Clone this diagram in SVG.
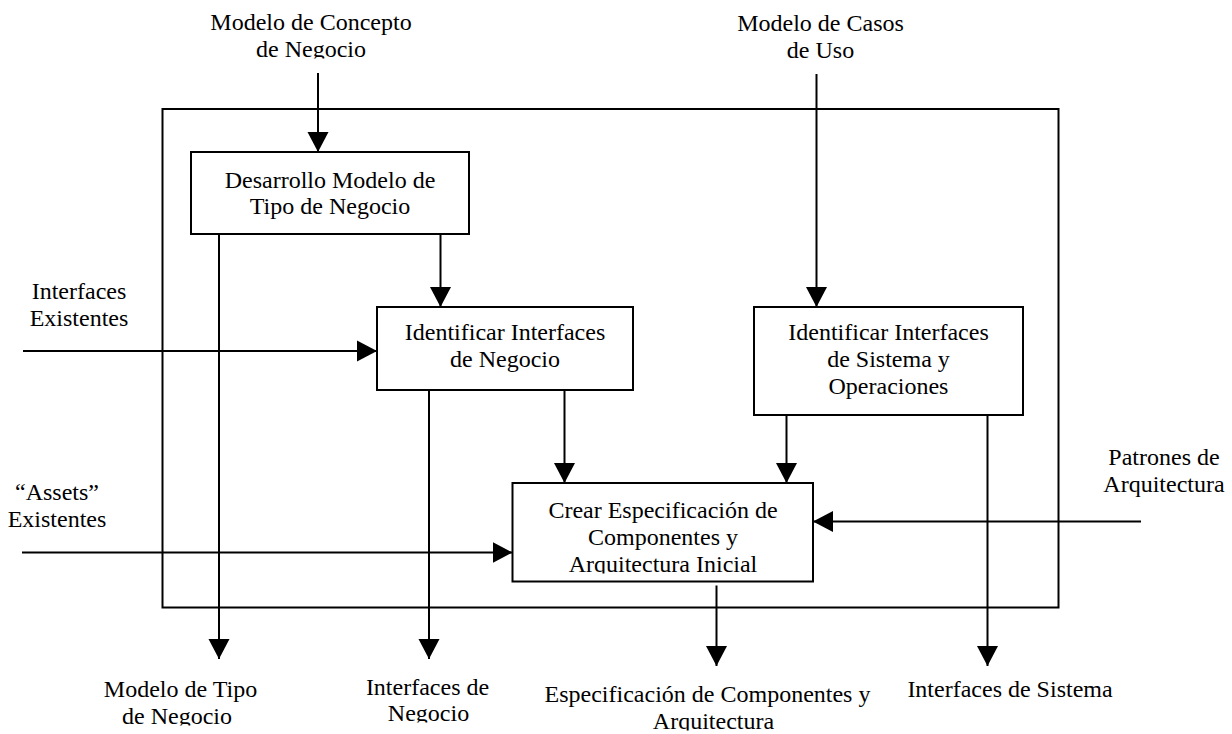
<svg xmlns="http://www.w3.org/2000/svg" width="1232" height="734" viewBox="0 0 1232 734">
<style>
text{font-family:"Liberation Serif","Times New Roman",serif;font-size:24px;fill:#000;text-anchor:middle}
.box{fill:#fff;stroke:#000;stroke-width:2}
.frame{fill:none;stroke:#000;stroke-width:2}
.c{stroke:#000;stroke-width:2;fill:none;marker-end:url(#ah)}
.n{stroke:#000;stroke-width:2;fill:none}
</style>
<defs>
<marker id="ah" markerUnits="userSpaceOnUse" markerWidth="21" markerHeight="22" refX="20" refY="11" orient="auto" viewBox="0 0 21 22">
<path d="M0,0.5 L20,11 L0,21.5 z" fill="#000"/>
</marker>
<clipPath id="clipTop"><rect x="200" y="0" width="240" height="58.5"/></clipPath>
<clipPath id="clipB3"><rect x="513" y="484" width="299" height="89.5"/></clipPath>
<clipPath id="clipBL1"><rect x="90" y="640" width="180" height="85.5"/></clipPath>
<clipPath id="clipBL2"><rect x="350" y="640" width="160" height="82.5"/></clipPath>
<clipPath id="clipBL3"><rect x="530" y="640" width="360" height="90.5"/></clipPath>
</defs>
<rect x="0" y="0" width="1232" height="734" fill="#fff"/>

<g id="frame"><rect class="frame" x="162.5" y="109" width="896" height="498.5"/></g>

<g id="connectors">
<line class="c" x1="318" y1="73" x2="318" y2="152"/>
<line class="c" x1="816.5" y1="74" x2="816.5" y2="307"/>
<line class="c" x1="219" y1="234" x2="219" y2="659"/>
<line class="c" x1="440.5" y1="234" x2="440.5" y2="307"/>
<line class="c" x1="23" y1="351" x2="377" y2="351"/>
<line class="c" x1="429" y1="390" x2="429" y2="659"/>
<line class="c" x1="564.5" y1="390" x2="564.5" y2="483"/>
<line class="c" x1="786.5" y1="415" x2="786.5" y2="483"/>
<line class="c" x1="987.5" y1="415" x2="987.5" y2="666"/>
<line class="c" x1="22" y1="552.5" x2="512.5" y2="552.5"/>
<line class="c" x1="1141" y1="521.5" x2="813" y2="521.5"/>
<line class="c" x1="716.5" y1="585.5" x2="716.5" y2="666"/>
</g>

<g id="box1"><rect class="box" x="191" y="152" width="278" height="82"/>
<text x="330" y="188">Desarrollo Modelo de</text><text x="330" y="214">Tipo de Negocio</text></g>
<g id="box2"><rect class="box" x="377" y="307" width="256" height="83"/>
<text x="505" y="340">Identificar Interfaces</text><text x="505" y="367">de Negocio</text></g>
<g id="box4"><rect class="box" x="754" y="307" width="269" height="108"/>
<text x="888.5" y="340">Identificar Interfaces</text><text x="888.5" y="367">de Sistema y</text><text x="888.5" y="394">Operaciones</text></g>
<g id="box3"><rect class="box" x="512.5" y="483" width="300.5" height="98.5"/>
<g clip-path="url(#clipB3)"><text x="663" y="518">Crear Especificación de</text><text x="663" y="545">Componentes y</text><text x="663" y="572">Arquitectura Inicial</text></g></g>

<g id="in-concepto"><g clip-path="url(#clipTop)"><text x="311" y="30">Modelo de Concepto</text><text x="311" y="57">de Negocio</text></g></g>
<g id="in-casos"><text x="820.5" y="31">Modelo de Casos</text><text x="820.5" y="58">de Uso</text></g>
<g id="in-interfaces"><text x="79" y="299">Interfaces</text><text x="79" y="326">Existentes</text></g>
<g id="in-assets"><text x="57" y="500">“Assets”</text><text x="57" y="527">Existentes</text></g>
<g id="in-patrones"><text x="1164" y="465">Patrones de</text><text x="1164" y="492">Arquitectura</text></g>

<g id="out-tipo"><g clip-path="url(#clipBL1)"><text x="180.5" y="697">Modelo de Tipo</text><text x="177" y="724">de Negocio</text></g></g>
<g id="out-interfaces"><g clip-path="url(#clipBL2)"><text x="427.5" y="694.5">Interfaces de</text><text x="428.5" y="721">Negocio</text></g></g>
<g id="out-espec"><g clip-path="url(#clipBL3)"><text x="707.5" y="702">Especificación de Componentes y</text><text x="713.5" y="729">Arquitectura</text></g></g>
<g id="out-sistema"><text x="1010" y="697">Interfaces de Sistema</text></g>
</svg>
